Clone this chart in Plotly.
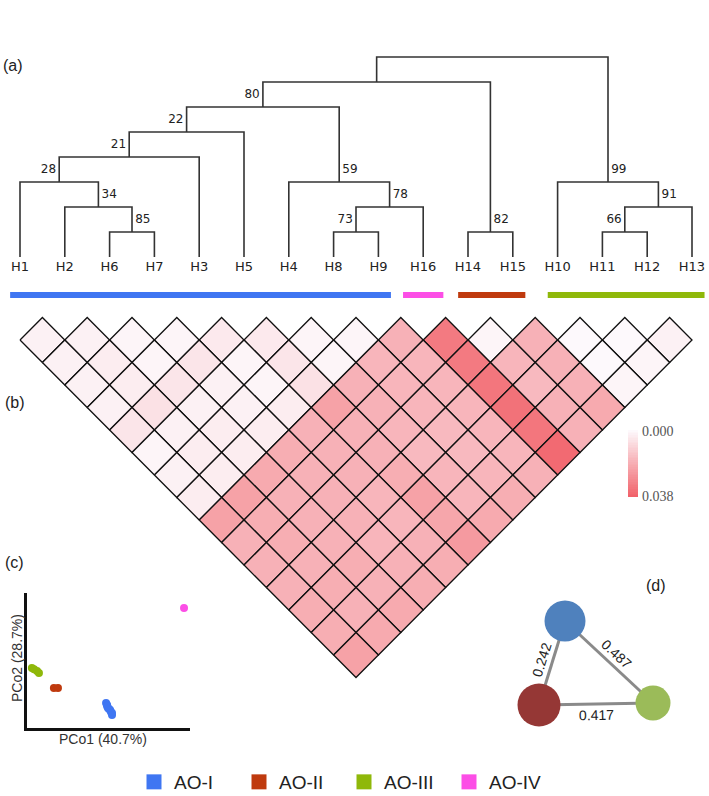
import math
import numpy as np
import plotly.graph_objects as go
import plotly.colors as pc

W, H = 709, 796

# ---------------- DATA ----------------
leaf_labels = ["H1", "H2", "H6", "H7", "H3", "H5", "H4", "H8", "H9",
               "H16", "H14", "H15", "H10", "H11", "H12", "H13"]
leaf_group = ["AO-I"] * 9 + ["AO-IV"] + ["AO-II"] * 2 + ["AO-III"] * 4

# dendrogram merges (children refer to leaf names or earlier node ids "n#")
merge_left = ["H6", "H2", "H1", "n2", "n3", "H8", "n5", "H4", "n4", "H14", "n8", "H11", "n11", "H10", "n10"]
merge_right = ["H7", "n0", "n1", "H3", "H5", "H9", "H16", "n6", "n7", "H15", "n9", "H12", "H13", "n12", "n13"]
merge_level = [1, 2, 3, 4, 5, 1, 2, 3, 6, 1, 7, 1, 2, 3, 8]
merge_support = [85, 34, 28, 21, 22, 73, 78, 59, 80, 82, None, 66, 91, 99, None]

# pairwise distances, by diagonal offset (j - i) in leaf order
diag1 = [.002, .002, .001, .001, .004, .004, .001, .001, .018, .032, .001, .018, .000, .000, .002]
diag2 = [.002, .003, .001, .005, .001, .005, .001, .017, .017, .032, .017, .018, .000, .001]
diag3 = [.002, .003, .005, .002, .001, .006, .018, .017, .017, .033, .016, .018, .001]
diag4 = [.002, .006, .002, .002, .003, .022, .018, .017, .017, .034, .018, .020]
diag5 = [.005, .002, .003, .003, .018, .018, .017, .016, .017, .033, .018]
diag6 = [.001, .003, .003, .019, .018, .018, .016, .016, .017, .036]
diag7 = [.002, .003, .020, .018, .018, .019, .017, .017, .018]
diag8 = [.003, .022, .018, .018, .017, .022, .017, .019]
diag9 = [.022, .019, .018, .018, .017, .021, .020]
diag10 = [.018, .019, .018, .017, .018, .024]
diag11 = [.018, .018, .019, .018, .019]
diag12 = [.018, .019, .018, .019]
diag13 = [.019, .018, .020]
diag14 = [.019, .020]
diag15 = [.022]
dist_min, dist_max = 0.000, 0.038

# PCoA coordinates per group
groups = ["AO-I", "AO-II", "AO-III", "AO-IV"]
pco1 = {
    "AO-I": [0.091, 0.095, 0.095, 0.098, 0.102, 0.106, 0.109, 0.113, 0.113],
    "AO-II": [-0.101, -0.086],
    "AO-III": [-0.182, -0.174, -0.163, -0.156],
    "AO-IV": [0.378],
}
pco2 = {
    "AO-I": [-0.157, -0.165, -0.169, -0.176, -0.180, -0.183, -0.191, -0.194, -0.202],
    "AO-II": [-0.102, -0.102],
    "AO-III": [-0.028, -0.032, -0.039, -0.046],
    "AO-IV": [0.194],
}
pco1_label = "PCo1 (40.7%)"
pco2_label = "PCo2 (28.7%)"

# network (d): pairwise values
net_nodes = ["AO-I", "AO-II", "AO-III"]
edge_a = ["AO-I", "AO-I", "AO-II"]
edge_b = ["AO-II", "AO-III", "AO-III"]
edge_val = [0.242, 0.487, 0.417]

# ---------------- STYLE ----------------
group_color = {"AO-I": "#3f76f2", "AO-II": "#bf3a0e", "AO-III": "#8fb80a", "AO-IV": "#fc4ee6"}
net_color = {"AO-I": "#4f81bd", "AO-II": "#953735", "AO-III": "#9bbb59"}
net_pos = {"AO-I": (565, 621), "AO-II": (539, 705), "AO-III": (653, 703)}
net_size = {"AO-I": 41, "AO-II": 43, "AO-III": 35}
label_side = {85: 1, 34: 1, 28: -1, 21: -1, 22: -1, 73: -1, 78: 1, 59: 1, 80: -1, 82: 1, 66: -1, 91: 1, 99: 1}
heat_scale = [[0, "#fdf9fc"], [1, "#f1626a"]]

def py(p):  # pixel y -> paper
    return 1 - p / H

def pxx(p):
    return p / W

fig = go.Figure()

# ---------------- (a) dendrogram ----------------
xpos = {lab: k for k, lab in enumerate(leaf_labels)}
hpos = {lab: 0 for lab in leaf_labels}
lx, ly = [], []
sup_x, sup_y, sup_t, sup_pos = [], [], [], []
for n, (a, b, lev, sup) in enumerate(zip(merge_left, merge_right, merge_level, merge_support)):
    xa, xb = xpos[a], xpos[b]
    lx += [xa, xa, xb, xb, None]
    ly += [hpos[a], lev, lev, hpos[b], None]
    nid = "n%d" % n
    xpos[nid] = (xa + xb) / 2
    hpos[nid] = lev
    if sup is not None:
        side = label_side[sup]
        sup_x.append(xpos[nid] + side * 0.07)
        sup_y.append(lev + 0.5)
        sup_t.append(str(sup))
        sup_pos.append("middle right" if side > 0 else "middle left")

fig.add_trace(go.Scatter(x=lx, y=ly, mode="lines", line=dict(color="#333333", width=1.6),
                         hoverinfo="skip", showlegend=False, xaxis="x", yaxis="y"))
fig.add_trace(go.Scatter(x=sup_x, y=sup_y, mode="text", text=sup_t, textposition=sup_pos,
                         textfont=dict(family="DejaVu Sans", size=12, color="#222"),
                         hoverinfo="skip", showlegend=False, xaxis="x", yaxis="y"))
fig.add_trace(go.Scatter(x=list(range(len(leaf_labels))), y=[-0.44] * len(leaf_labels), mode="text",
                         text=leaf_labels, textposition="middle center",
                         textfont=dict(family="DejaVu Sans", size=13, color="#222"),
                         hoverinfo="skip", showlegend=False, xaxis="x", yaxis="y", cliponaxis=False))
# group bars
for g in groups:
    idx = [k for k, gg in enumerate(leaf_group) if gg == g]
    lo, hi = min(idx), max(idx)
    if lo == hi:
        x0, x1 = lo - 0.45, hi + 0.45
    else:
        x0, x1 = lo - 0.22, hi + 0.28
    fig.add_trace(go.Scatter(x=[x0, x1], y=[-1.52, -1.52], mode="lines",
                             line=dict(color=group_color[g], width=6),
                             hoverinfo="skip", showlegend=False, xaxis="x", yaxis="y"))

# ---------------- (b) triangular heatmap ----------------
diags = [diag1, diag2, diag3, diag4, diag5, diag6, diag7, diag8, diag9, diag10,
         diag11, diag12, diag13, diag14, diag15]
for d, row in enumerate(diags, start=1):
    for i, v in enumerate(row):
        j = i + d
        cx = (i + j) / 2
        cy = -d / 2
        t = (v - dist_min) / (dist_max - dist_min)
        col = pc.sample_colorscale(heat_scale, [min(max(t, 0), 1)], colortype="rgb")[0]
        fig.add_trace(go.Scatter(x=[cx - 0.5, cx, cx + 0.5, cx, cx - 0.5],
                                 y=[cy, cy + 0.5, cy, cy - 0.5, cy],
                                 mode="lines", fill="toself", fillcolor=col,
                                 line=dict(color="#111", width=1.3),
                                 hoverinfo="skip", showlegend=False, xaxis="x", yaxis="y2"))

# colour bar
grad = np.linspace(dist_min, dist_max, 40)
fig.add_trace(go.Heatmap(z=[[v] for v in grad], y=grad, x=[0], colorscale=heat_scale,
                         zmin=dist_min, zmax=dist_max, showscale=False, hoverinfo="skip",
                         xaxis="x3", yaxis="y3"))

# ---------------- (c) PCoA ----------------
for g in groups:
    fig.add_trace(go.Scatter(x=pco1[g], y=pco2[g], mode="markers",
                             marker=dict(color=group_color[g], size=8),
                             hoverinfo="skip", showlegend=False, xaxis="x5", yaxis="y5"))

# ---------------- (d) network ----------------
for a, b, v in zip(edge_a, edge_b, edge_val):
    (xa, ya), (xb, yb) = net_pos[a], net_pos[b]
    fig.add_trace(go.Scatter(x=[xa, xb], y=[ya, yb], mode="lines",
                             line=dict(color="#8a8a8a", width=3),
                             hoverinfo="skip", showlegend=False, xaxis="x4", yaxis="y4"))
for nd in net_nodes:
    fig.add_trace(go.Scatter(x=[net_pos[nd][0]], y=[net_pos[nd][1]], mode="markers",
                             marker=dict(color=net_color[nd], size=net_size[nd], line=dict(width=0)),
                             hoverinfo="skip", showlegend=False, xaxis="x4", yaxis="y4"))

annotations = []
cxm = sum(p[0] for p in net_pos.values()) / 3
cym = sum(p[1] for p in net_pos.values()) / 3
for a, b, v in zip(edge_a, edge_b, edge_val):
    (xa, ya), (xb, yb) = net_pos[a], net_pos[b]
    dx, dy = xb - xa, yb - ya
    L = math.hypot(dx, dy)
    ang = math.degrees(math.atan2(dy, dx))
    if ang > 90:
        ang -= 180
    if ang < -90:
        ang += 180
    nx, ny = dy / L, -dx / L
    mx, my = (xa + xb) / 2, (ya + yb) / 2
    off = 11
    if (mx + nx - cxm) ** 2 + (my + ny - cym) ** 2 < (mx - cxm) ** 2 + (my - cym) ** 2:
        nx, ny = -nx, -ny
    annotations.append(dict(x=mx + nx * off, y=my + ny * off, xref="x4", yref="y4",
                            text="%.3f" % v, showarrow=False, textangle=ang,
                            xanchor="center", yanchor="middle",
                            font=dict(family="Liberation Sans", size=14, color="#222")))

# panel labels and titles
for t, x, y in [("(a)", 1, 65), ("(b)", 3, 402), ("(c)", 3, 562), ("(d)", 644, 585)]:
    annotations.append(dict(x=pxx(x), y=py(y), xref="paper", yref="paper", text=t,
                            showarrow=False, xanchor="left", yanchor="middle",
                            font=dict(family="Liberation Sans", size=16, color="#222")))
annotations.append(dict(x=pxx(103), y=py(739), xref="paper", yref="paper", text=pco1_label,
                        showarrow=False, xanchor="center", yanchor="middle",
                        font=dict(family="Liberation Sans", size=14, color="#333")))
annotations.append(dict(x=pxx(17), y=py(658), xref="paper", yref="paper", text=pco2_label,
                        showarrow=False, textangle=-90, xanchor="center", yanchor="middle",
                        font=dict(family="Liberation Sans", size=14, color="#333")))

# legend entries
for g in groups:
    fig.add_trace(go.Scatter(x=[None], y=[None], mode="markers", name=g,
                             marker=dict(color=group_color[g], size=15, symbol="square"),
                             xaxis="x5", yaxis="y5", showlegend=True))

# ---------------- layout ----------------
blank = dict(showgrid=False, zeroline=False, showticklabels=False, ticks="", showline=False,
             automargin=False)
fig.update_layout(
    width=W, height=H, margin=dict(l=0, r=0, t=0, b=0, pad=0, autoexpand=False),
    paper_bgcolor="white", plot_bgcolor="rgba(0,0,0,0)",
    font=dict(family="Liberation Sans", color="#222"),
    xaxis=dict(domain=[0, 1], range=[-20 / 44.8, (W - 20) / 44.8], anchor="y", **blank),
    yaxis=dict(domain=[py(300), py(50)], range=[(257 - 300) / 25, (257 - 50) / 25], anchor="x", **blank),
    yaxis2=dict(domain=[py(690), py(310)], range=[(317.5 - 690) / 45, (317.5 - 310) / 45], anchor="x", **blank),
    xaxis3=dict(domain=[pxx(628), pxx(638)], anchor="y3", **blank),
    yaxis3=dict(domain=[py(497), py(430)], anchor="x3", autorange="reversed", side="right",
                showgrid=False, zeroline=False, ticks="", showline=False, automargin=False,
                tickvals=[dist_min, dist_max], ticktext=["%.3f" % dist_min, "%.3f" % dist_max],
                ticklabelstandoff=3,
                tickfont=dict(family="Liberation Serif", size=14, color="#555")),
    xaxis4=dict(domain=[pxx(500), 1], range=[500, W], anchor="y4", **blank),
    yaxis4=dict(domain=[py(750), py(560)], range=[750, 560], anchor="x4", **blank),
    xaxis5=dict(domain=[pxx(27), pxx(190)], range=[-0.2, 0.4], anchor="y5",
                showgrid=False, zeroline=False, showticklabels=False, ticks="", automargin=False,
                showline=True, linecolor="#111", linewidth=2.5),
    yaxis5=dict(domain=[py(728), py(593)], range=[-0.25, 0.25], anchor="x5",
                showgrid=False, zeroline=False, showticklabels=False, ticks="", automargin=False,
                showline=True, linecolor="#111", linewidth=2.5),
    annotations=annotations,
    showlegend=True,
    legend=dict(orientation="h", x=pxx(134), xanchor="left", y=py(782), yanchor="middle",
                entrywidth=60, entrywidthmode="pixels", itemsizing="trace",
                font=dict(family="Liberation Sans", size=19, color="#222"),
                bgcolor="rgba(0,0,0,0)", traceorder="normal"),
)

fig.write_html("out.html", config={"displayModeBar": False},
               post_script="document.body.style.margin='0';document.body.style.overflow='hidden';")
